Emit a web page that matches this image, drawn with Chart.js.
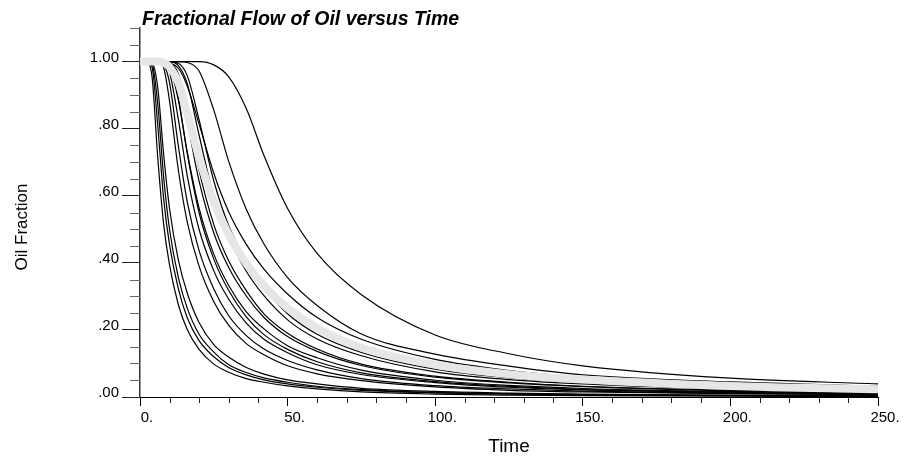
<!DOCTYPE html>
<html>
<head>
<meta charset="utf-8">
<title>Fractional Flow of Oil versus Time</title>
<script src="https://cdn.jsdelivr.net/npm/chart.js@4.4.0/dist/chart.umd.min.js"></script>
<style>
  html, body { margin: 0; padding: 0; background: #fff; }
  canvas { display: block; }
</style>
</head>
<body>
<canvas id="flow" width="904" height="458"></canvas>
<script>
// sample times shared by every run
var times = [0, 2, 4, 6, 8, 10, 13, 16, 20, 25, 30, 36, 42, 50, 60, 75, 100, 125, 150, 200, 250];

// oil fraction per realisation, early breakthrough first
var runA1 = [1, 1, 0.96, 0.715, 0.516, 0.394, 0.275, 0.201, 0.142, 0.098, 0.074, 0.055, 0.044, 0.033, 0.024, 0.015, 0.0085, 0.0055, 0.004, 0.0024, 0.0015];
var runA2 = [1, 1, 0.986, 0.811, 0.592, 0.454, 0.322, 0.236, 0.168, 0.120, 0.088, 0.066, 0.051, 0.039, 0.029, 0.0196, 0.0124, 0.0085, 0.0064, 0.0040, 0.0027];
var runA3 = [1, 1, 0.996, 0.874, 0.657, 0.500, 0.356, 0.265, 0.187, 0.134, 0.097, 0.073, 0.057, 0.044, 0.032, 0.022, 0.0136, 0.0097, 0.0071, 0.0044, 0.0031];
var runA4 = [1, 1, 0.997, 0.923, 0.724, 0.562, 0.408, 0.310, 0.222, 0.156, 0.119, 0.088, 0.068, 0.051, 0.039, 0.026, 0.0165, 0.0117, 0.0084, 0.0054, 0.0038];
var runB1 = [1, 1, 1, 1, 0.982, 0.883, 0.676, 0.522, 0.390, 0.284, 0.214, 0.159, 0.126, 0.093, 0.069, 0.049, 0.030, 0.020, 0.015, 0.0097, 0.0066];
var runB2 = [1, 1, 1, 1, 0.991, 0.937, 0.748, 0.582, 0.437, 0.322, 0.243, 0.183, 0.143, 0.109, 0.081, 0.055, 0.034, 0.024, 0.0175, 0.0112, 0.0076];
var runB3 = [1, 1, 1, 1, 0.996, 0.968, 0.827, 0.660, 0.500, 0.376, 0.292, 0.220, 0.172, 0.132, 0.096, 0.067, 0.043, 0.029, 0.0215, 0.0133, 0.0095];
var runB4 = [1, 1, 1, 1, 0.998, 0.984, 0.885, 0.731, 0.564, 0.426, 0.333, 0.254, 0.203, 0.153, 0.117, 0.080, 0.050, 0.0345, 0.0254, 0.0161, 0.0113];
var runB5 = [1, 1, 1, 1, 1, 0.988, 0.891, 0.726, 0.550, 0.411, 0.318, 0.239, 0.186, 0.142, 0.105, 0.072, 0.046, 0.0315, 0.0229, 0.0144, 0.0102];
var runB6 = [1, 1, 1, 1, 1, 0.995, 0.948, 0.822, 0.644, 0.489, 0.387, 0.301, 0.237, 0.180, 0.136, 0.094, 0.059, 0.042, 0.031, 0.0185, 0.0129];
var runB7 = [1, 1, 1, 1, 1, 0.997, 0.963, 0.853, 0.676, 0.514, 0.407, 0.317, 0.248, 0.190, 0.143, 0.098, 0.062, 0.044, 0.032, 0.0197, 0.0137];
var runC1 = [1, 1, 1, 1, 1, 1, 0.988, 0.934, 0.781, 0.598, 0.477, 0.375, 0.302, 0.230, 0.173, 0.123, 0.075, 0.052, 0.039, 0.0237, 0.0167];
var runC2 = [1, 1, 1, 1, 1, 0.996, 0.980, 0.927, 0.814, 0.667, 0.553, 0.455, 0.381, 0.307, 0.237, 0.172, 0.112, 0.079, 0.059, 0.0375, 0.0258];
var runC3 = [1, 1, 1, 1, 1, 1, 0.995, 0.958, 0.827, 0.644, 0.512, 0.405, 0.326, 0.248, 0.187, 0.133, 0.083, 0.057, 0.043, 0.026, 0.018];
var runD = [1, 1, 1, 1, 1, 1, 1, 0.997, 0.972, 0.855, 0.704, 0.560, 0.456, 0.356, 0.273, 0.188, 0.128, 0.092, 0.066, 0.045, 0.032];
var runE = [1, 1, 1, 1, 1, 1, 1, 1, 1, 0.99, 0.955, 0.860, 0.720, 0.562, 0.428, 0.305, 0.185, 0.129, 0.093, 0.056, 0.039];

// average of all runs, drawn as the wide grey band
var meanRun = [1, 1, 1, 1, 0.996, 0.984, 0.937, 0.845, 0.714, 0.582, 0.485, 0.398, 0.331, 0.265, 0.206, 0.147, 0.096, 0.068, 0.052, 0.033, 0.023];

var runs = [runA1, runA2, runA3, runA4, runB1, runB2, runB3, runB4, runB5, runB6, runB7, runC1, runC2, runC3, runD, runE];

// labelled ticks
var yTickValues = [0, 0.2, 0.4, 0.6, 0.8, 1.0];
var yTickLabels = ['.00', '.20', '.40', '.60', '.80', '1.00'];
var xTickValues = [0, 50, 100, 150, 200, 250];
var xTickLabels = ['0.', '50.', '100.', '150.', '200.', '250.'];

var FONT = "'Liberation Sans', Arial, Helvetica, sans-serif";

function toPoints(vals) {
    return times.map(function (t, i) { return { x: t, y: vals[i] }; });
}

function yMajorIndex(v) {
    for (var i = 0; i < yTickValues.length; i++) {
        if (Math.abs(v - yTickValues[i]) < 1e-6) return i;
    }
    return -1;
}

function xMajorIndex(v) {
    for (var i = 0; i < xTickValues.length; i++) {
        if (Math.abs(v - xTickValues[i]) < 1e-6) return i;
    }
    return -1;
}

// short minor ticks, the chart title and the vertical axis title
var decor = {
    id: 'decor',
    afterDraw: function (chart) {
        var ctx = chart.ctx;
        var x = chart.scales.x, y = chart.scales.y;
        var area = chart.chartArea;
        ctx.save();
        ctx.lineWidth = 1;

        ctx.strokeStyle = '#666';
        y.ticks.forEach(function (t) {
            if (yMajorIndex(t.value) >= 0) return;
            var py = Math.round(y.getPixelForValue(t.value)) + 0.5;
            ctx.beginPath();
            ctx.moveTo(area.left - 10, py);
            ctx.lineTo(area.left, py);
            ctx.stroke();
        });

        ctx.strokeStyle = '#222';
        x.ticks.forEach(function (t) {
            if (xMajorIndex(t.value) >= 0) return;
            var px = Math.round(x.getPixelForValue(t.value)) + 0.5;
            ctx.beginPath();
            ctx.moveTo(px, area.bottom);
            ctx.lineTo(px, area.bottom + 6);
            ctx.stroke();
        });

        ctx.fillStyle = '#000';
        ctx.font = 'italic bold 19.5px ' + FONT;
        ctx.textAlign = 'left';
        ctx.textBaseline = 'alphabetic';
        ctx.fillText('Fractional Flow of Oil versus Time', area.left + 2, 25);

        ctx.font = '17px ' + FONT;
        ctx.textAlign = 'center';
        ctx.textBaseline = 'middle';
        ctx.translate(22, 227);
        ctx.rotate(-Math.PI / 2);
        ctx.fillText('Oil Fraction', 0, 0);
        ctx.restore();
    }
};

var datasets = [{
    data: toPoints(meanRun),
    borderColor: '#e6e6e6',
    borderWidth: 8,
    pointRadius: 0,
    cubicInterpolationMode: 'monotone',
    order: 0
}];
runs.forEach(function (r) {
    datasets.push({
        data: toPoints(r),
        borderColor: '#000',
        borderWidth: 1.2,
        pointRadius: 0,
        cubicInterpolationMode: 'monotone',
        order: 1
    });
});

new Chart(document.getElementById('flow').getContext('2d'), {
    type: 'line',
    data: { datasets: datasets },
    options: {
        responsive: false,
        animation: false,
        layout: { padding: { left: 0, right: 26, top: 28, bottom: 0 } },
        plugins: {
            legend: { display: false },
            tooltip: { enabled: false },
            title: { display: false }
        },
        scales: {
            x: {
                type: 'linear',
                min: 0,
                max: 250,
                afterFit: function (scale) { scale.height = 61; },
                border: { display: true, color: '#000', width: 1 },
                grid: {
                    drawOnChartArea: false,
                    drawTicks: true,
                    tickLength: 9,
                    tickWidth: 1,
                    tickColor: function (c) { return xMajorIndex(c.tick.value) >= 0 ? '#000' : 'rgba(0,0,0,0)'; }
                },
                ticks: {
                    stepSize: 10,
                    autoSkip: false,
                    maxRotation: 0,
                    labelOffset: 7,
                    padding: 3,
                    color: '#000',
                    font: { family: FONT, size: 15 },
                    callback: function (v) {
                        var i = xMajorIndex(v);
                        return i >= 0 ? xTickLabels[i] : '';
                    }
                },
                title: {
                    display: true,
                    text: 'Time',
                    color: '#000',
                    font: { family: FONT, size: 19 },
                    padding: { top: 0, bottom: 0 }
                }
            },
            y: {
                type: 'linear',
                min: 0,
                max: 1.1,
                afterFit: function (scale) { scale.width = 140; },
                border: { display: true, color: '#333', width: 1.5 },
                grid: {
                    drawOnChartArea: false,
                    drawTicks: true,
                    tickLength: 18,
                    tickWidth: 1,
                    tickColor: function (c) { return yMajorIndex(c.tick.value) >= 0 ? '#222' : 'rgba(0,0,0,0)'; }
                },
                ticks: {
                    stepSize: 0.05,
                    autoSkip: false,
                    padding: 3,
                    labelOffset: -4,
                    color: '#000',
                    font: { family: FONT, size: 15 },
                    callback: function (v) {
                        var i = yMajorIndex(v);
                        return i >= 0 ? yTickLabels[i] : '';
                    }
                }
            }
        }
    },
    plugins: [decor]
});
</script>
</body>
</html>
